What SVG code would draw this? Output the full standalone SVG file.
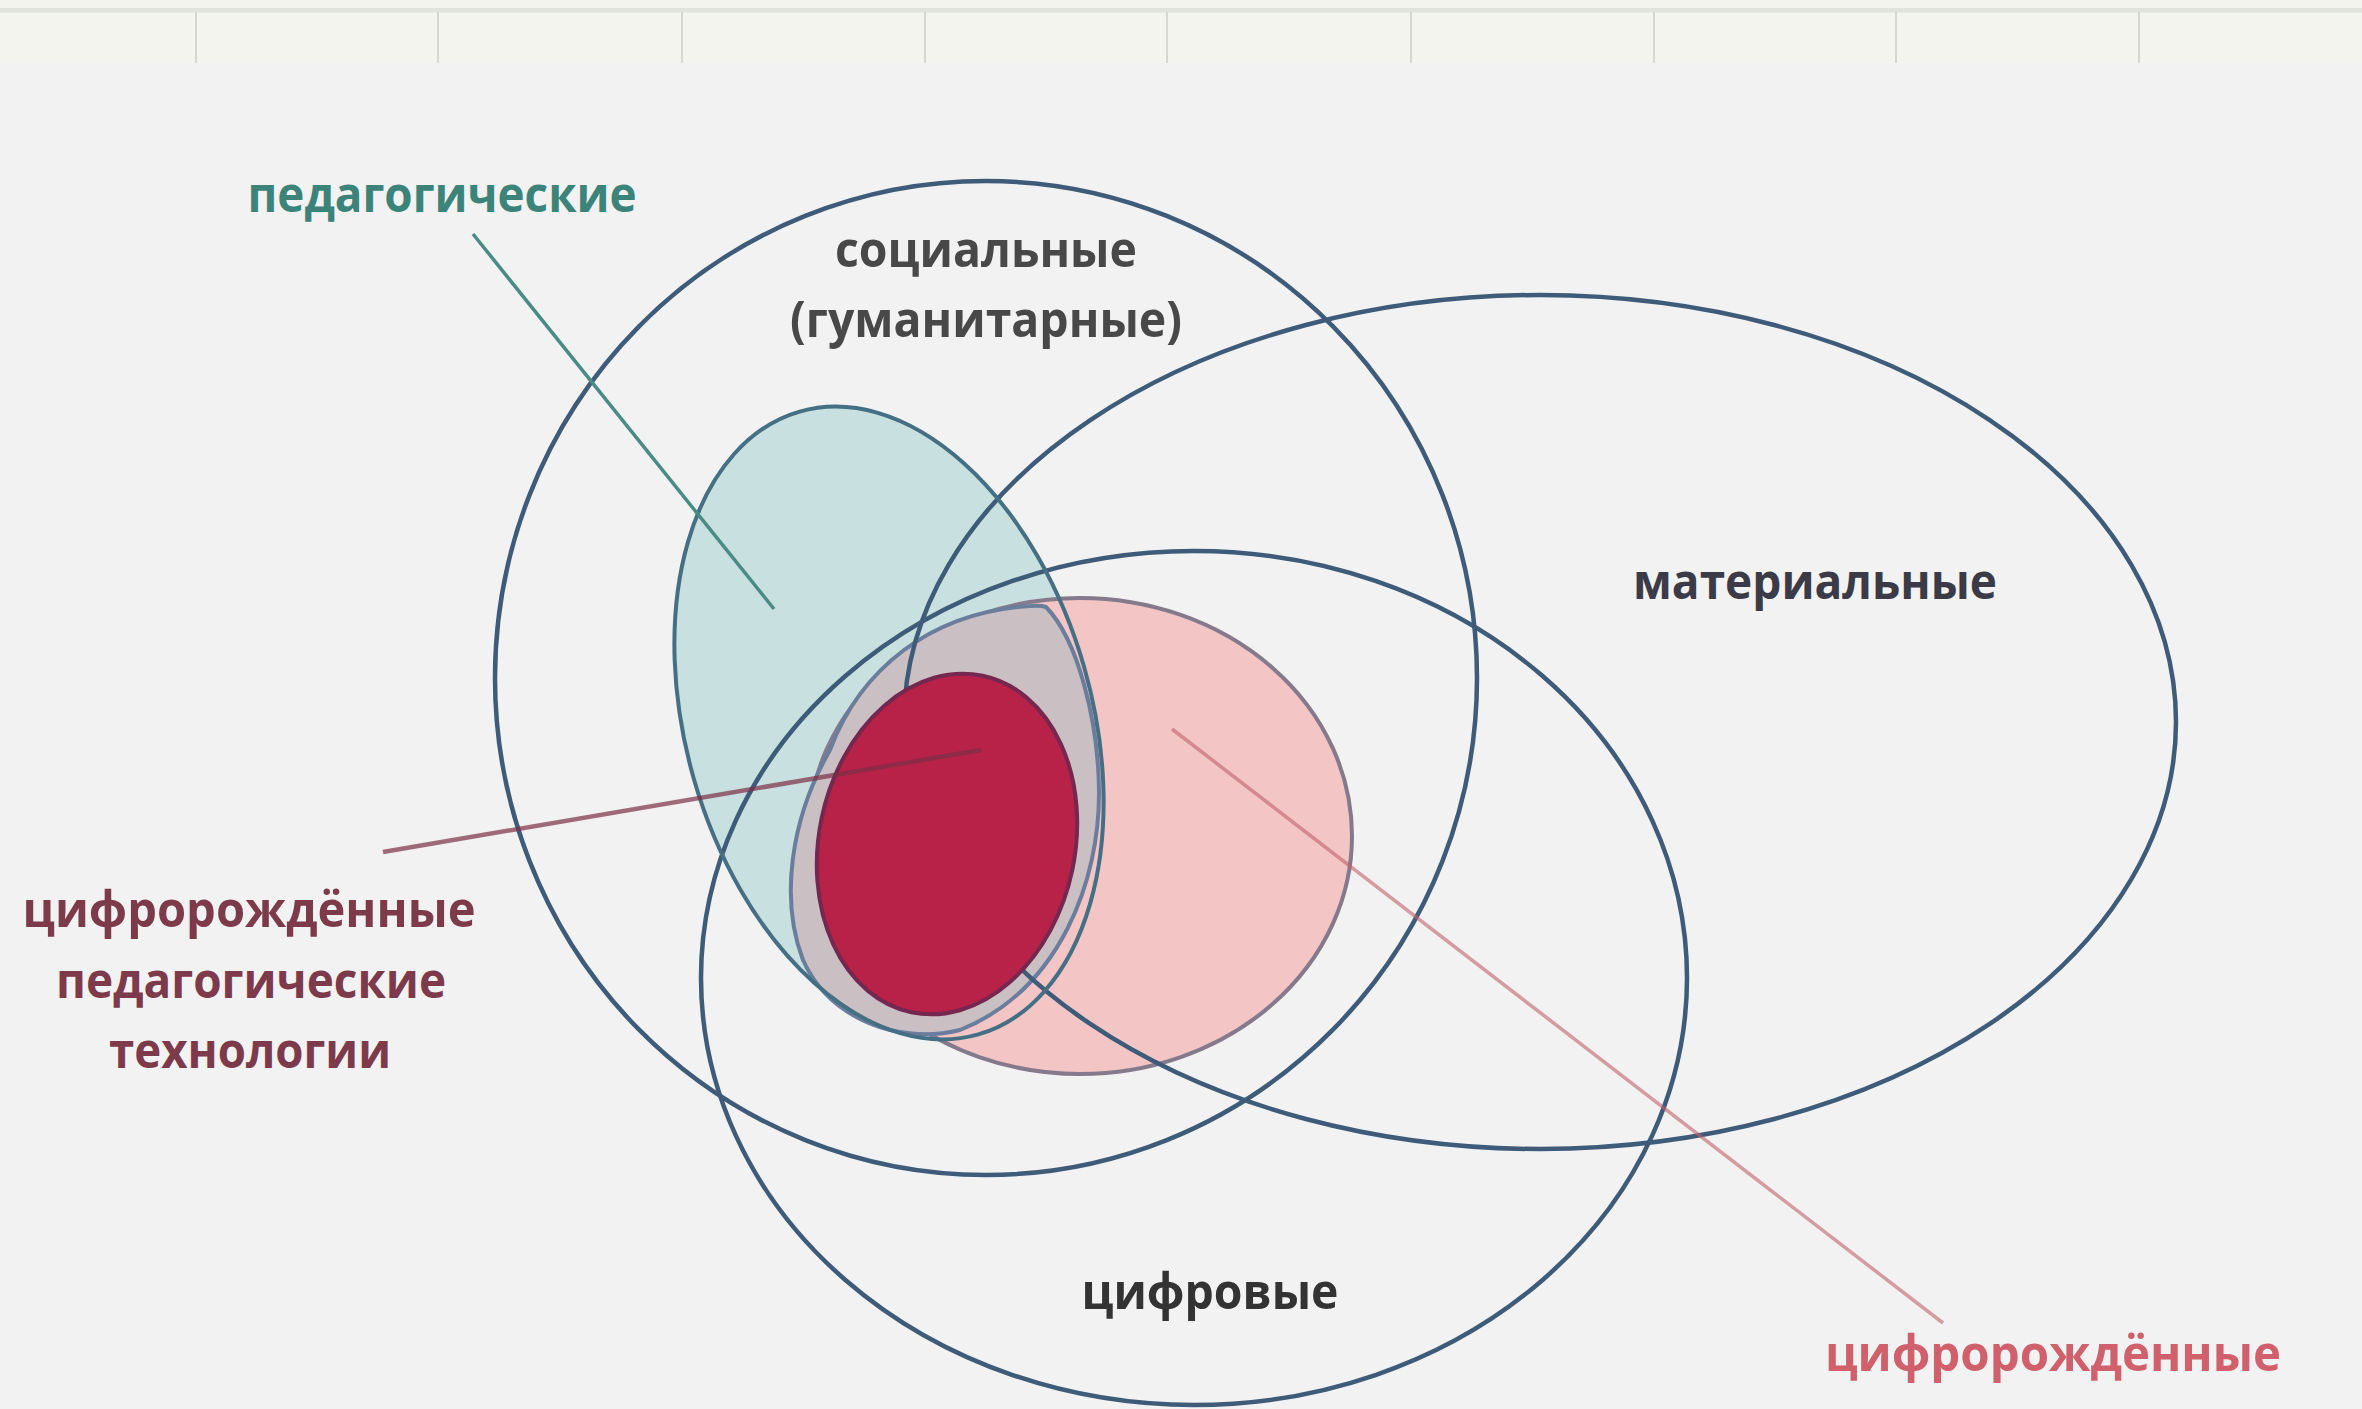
<svg xmlns="http://www.w3.org/2000/svg" width="2362" height="1409" viewBox="0 0 2362 1409">
<style>
.outline{fill:none;stroke:#3e5c7a;stroke-width:4.5}
.lbl{font-family:"Open Sans","Liberation Sans",sans-serif;font-weight:700;font-size:50px;text-anchor:middle}
.grid{stroke:#d6d7d1;stroke-width:2}
</style>
<rect x="0" y="0" width="2362" height="1409" fill="#f2f2f2"/>
<g id="top-strip">
<rect x="0" y="0" width="2362" height="63" fill="#f3f4ee"/>
<rect x="0" y="8" width="2362" height="4.5" fill="#e0e2dc"/>
<line class="grid" x1="196" y1="12" x2="196" y2="63"/>
<line class="grid" x1="438" y1="12" x2="438" y2="63"/>
<line class="grid" x1="682" y1="12" x2="682" y2="63"/>
<line class="grid" x1="925" y1="12" x2="925" y2="63"/>
<line class="grid" x1="1167" y1="12" x2="1167" y2="63"/>
<line class="grid" x1="1411" y1="12" x2="1411" y2="63"/>
<line class="grid" x1="1654" y1="12" x2="1654" y2="63"/>
<line class="grid" x1="1896" y1="12" x2="1896" y2="63"/>
<line class="grid" x1="2139" y1="12" x2="2139" y2="63"/>
</g>
<g id="pedagogical-fill">
<ellipse cx="889" cy="723" rx="203" ry="324" transform="rotate(-16 889 723)" fill="#c8e0df"/>
</g>
<g id="digital-born">
<ellipse cx="1080" cy="836" rx="272" ry="238" fill="#f3c5c5" stroke="#857a8c" stroke-width="4"/>
</g>
<g id="digital-born-pedagogical-outer">
<path d="M 1046 607 C 1078 640, 1098 720, 1099 790 C 1100 880, 1060 990, 960 1030 C 900 1045, 830 1020, 803 960 C 780 900, 790 820, 830 750 C 860 670, 930 612, 1030 606 Q 1040 605, 1046 607 Z" fill="#cabfc3" stroke="#6b7d9c" stroke-width="4"/>
</g>
<g id="social">
<ellipse class="outline" cx="986" cy="678" rx="491" ry="497"/>
</g>
<g id="material">
<ellipse class="outline" cx="1540" cy="722" rx="636" ry="427"/>
</g>
<g id="digital">
<ellipse class="outline" cx="1194" cy="978" rx="493" ry="427"/>
</g>
<g id="pedagogical">
<ellipse cx="889" cy="723" rx="203" ry="324" transform="rotate(-16 889 723)" fill="none" stroke="#456f84" stroke-width="4"/>
</g>
<g id="digital-born-pedagogical">
<ellipse cx="947" cy="844" rx="128" ry="172" transform="rotate(12 947 844)" fill="#b82148" stroke="#74284f" stroke-width="4"/>
</g>
<g id="connectors">
<line x1="473" y1="234" x2="774" y2="609" stroke="#4a8c85" stroke-width="3.5"/>
<line x1="383" y1="852" x2="981" y2="750" stroke="#7a2f45" stroke-opacity="0.7" stroke-width="4.5"/>
<line x1="1172" y1="729" x2="1943" y2="1323" stroke="#c0606a" stroke-opacity="0.6" stroke-width="3.5"/>
</g>
<g id="labels">
<text class="lbl" x="442" y="212" fill="#3c8479" textLength="389" lengthAdjust="spacingAndGlyphs">педагогические</text>
<text class="lbl" x="986" y="267" fill="#484848" textLength="302" lengthAdjust="spacingAndGlyphs">социальные</text>
<text class="lbl" x="986" y="337" fill="#484848" textLength="392" lengthAdjust="spacingAndGlyphs">(гуманитарные)</text>
<text class="lbl" x="1815" y="599" fill="#3b3b48" textLength="364" lengthAdjust="spacingAndGlyphs">материальные</text>
<text class="lbl" x="1210" y="1309" fill="#333333" textLength="257" lengthAdjust="spacingAndGlyphs">цифровые</text>
<text class="lbl" x="2053" y="1371" fill="#d0606c" textLength="456" lengthAdjust="spacingAndGlyphs">цифророждённые</text>
<text class="lbl" x="249" y="927" fill="#7d3a4b" textLength="453" lengthAdjust="spacingAndGlyphs">цифророждённые</text>
<text class="lbl" x="251" y="998" fill="#7d3a4b" textLength="390" lengthAdjust="spacingAndGlyphs">педагогические</text>
<text class="lbl" x="250" y="1068" fill="#7d3a4b" textLength="282" lengthAdjust="spacingAndGlyphs">технологии</text>
</g>
</svg>
